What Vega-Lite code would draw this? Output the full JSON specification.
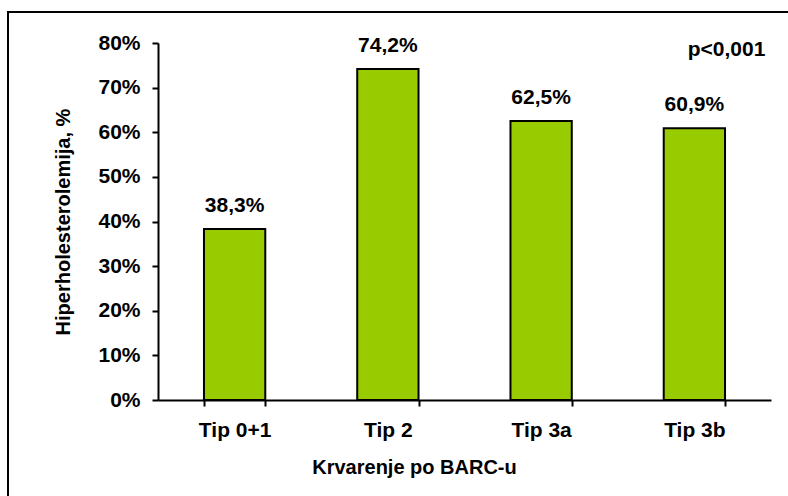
{
  "$schema": "https://vega.github.io/schema/vega-lite/v6.json",
  "width": 790,
  "height": 494,
  "autosize": {"type": "none"},
  "padding": {"left": 8, "top": 12, "right": -10, "bottom": -10},
  "background": "white",
  "config": {
    "locale": {"number": {"decimal": ",", "thousands": ".", "grouping": [3], "currency": ["", " €"]}},
    "view": {"stroke": "black", "strokeWidth": 2},
    "font": "Liberation Sans",
    "axis": {
      "labelFont": "Liberation Sans",
      "labelFontWeight": "bold",
      "labelFontSize": 21,
      "labelColor": "black",
      "titleFont": "Liberation Sans",
      "titleFontWeight": "bold",
      "titleFontSize": 20,
      "titleColor": "black",
      "domainColor": "black",
      "domainWidth": 2,
      "tickColor": "black",
      "tickWidth": 2,
      "tickSize": 6,
      "grid": false
    }
  },
  "data": {
    "values": [
      {"tip": "Tip 0+1", "value": 0.383},
      {"tip": "Tip 2", "value": 0.742},
      {"tip": "Tip 3a", "value": 0.625},
      {"tip": "Tip 3b", "value": 0.609}
    ]
  },
  "encoding": {
    "x": {
      "field": "tip",
      "type": "nominal",
      "sort": null,
      "title": "Krvarenje po BARC-u",
      "scale": {"range": [150, 763], "paddingInner": 0.6, "paddingOuter": 0.3},
      "axis": {"labelAngle": 0, "tickBand": "extent", "offset": -106, "labelPadding": 13, "titlePadding": 17, "titleX": 406}
    },
    "y": {
      "field": "value",
      "type": "quantitative",
      "title": "Hiperholesterolemija, %",
      "scale": {"domain": [0, 0.8], "nice": false, "range": [388, 31]},
      "axis": {"format": ".0%", "values": [0, 0.1, 0.2, 0.3, 0.4, 0.5, 0.6, 0.7, 0.8], "offset": -150, "labelPadding": 12, "titlePadding": 24}
    }
  },
  "layer": [
    {"mark": {"type": "bar", "color": "#99CC00", "stroke": "black", "strokeWidth": 2}},
    {
      "mark": {"type": "text", "font": "Liberation Sans", "fontWeight": "bold", "fontSize": 21, "color": "black", "baseline": "alphabetic", "dy": -17},
      "encoding": {"text": {"field": "value", "type": "quantitative", "format": ".1%"}}
    },
    {
      "data": {"values": [{"label": "p<0,001", "tip": "Tip 3b", "value": 0.8}]},
      "mark": {"type": "text", "font": "Liberation Sans", "fontWeight": "bold", "fontSize": 21, "color": "black", "align": "right", "baseline": "alphabetic", "dx": 71, "dy": 13},
      "encoding": {"text": {"field": "label"}}
    }
  ]
}
